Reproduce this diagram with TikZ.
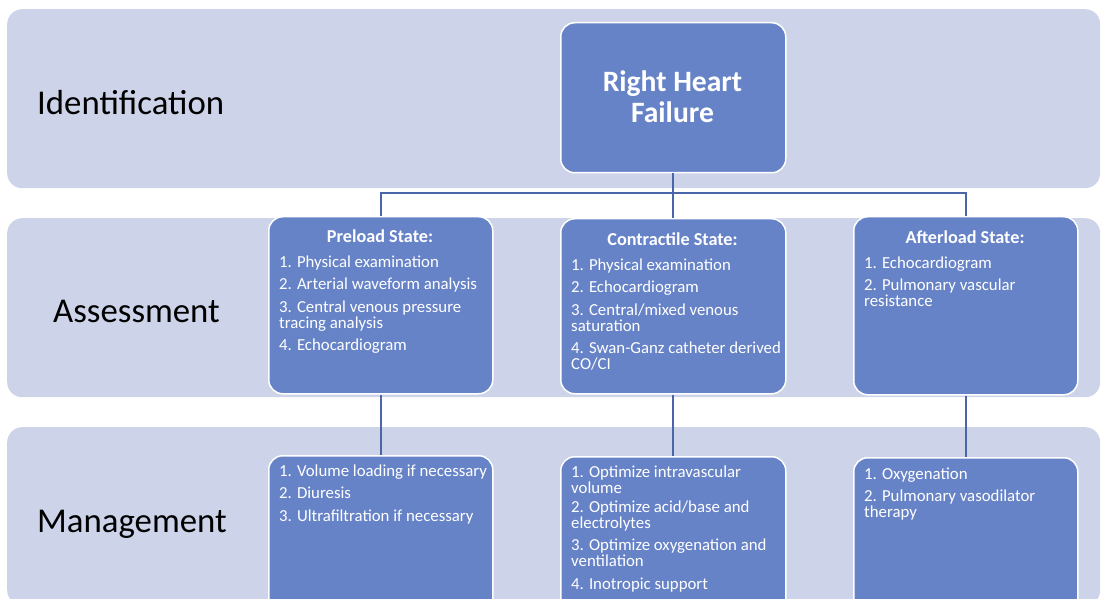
\documentclass[tikz,border=0pt]{standalone}
\usepackage{fontspec}
\setmainfont{Carlito}
\definecolor{bandc}{HTML}{CDD4E9}
\definecolor{boxc}{HTML}{6783C7}
\definecolor{linec}{HTML}{4A66A8}
\tikzset{
  band/.style={fill=bandc, draw=none, rounded corners=15pt, anchor=north west, inner sep=0pt},
  sbox/.style={fill=boxc, draw=white, line width=1.5pt, rounded corners=14pt, anchor=north west, inner sep=0pt},
  bandlabel/.style={anchor=base west, inner sep=0pt, text=black, font=\fontsize{34.8}{38}\selectfont},
  boxtitle/.style={anchor=base, inner sep=0pt, text=white, font=\bfseries\fontsize{18.2}{19}\selectfont},
  boxtext/.style={anchor=north west, inner sep=0pt, text=white, align=left, font=\fontsize{16.8}{16}\selectfont},
  conn/.style={draw=linec, line width=2pt}
}
\begin{document}
\begin{tikzpicture}[x=1pt, y=-1pt]
\useasboundingbox (0,0) rectangle (1104,599);
\clip (0,0) rectangle (1104,599);
% bands
\node[band, minimum width=1093pt, minimum height=179pt] (b1) at (7,9) {};
\node[band, minimum width=1093pt, minimum height=179pt] (b2) at (7,218) {};
\node[band, minimum width=1093pt, minimum height=178pt] (b3) at (7,427) {};
\node[bandlabel] (l1) at (37,114.5) {Identification};
\node[bandlabel] (l2) at (53,322.5) {Assessment};
\node[bandlabel] (l3) at (37,532.5) {Management};
% top box
\node[sbox, minimum width=225pt, minimum height=150pt] (rhf) at (560,22) {};
\node[inner sep=0pt, text=white, align=center, font=\bfseries\fontsize{29.6}{31}\selectfont] (rhft) at (672.5,96.5) {Right Heart\\Failure};
% assessment boxes
\node[sbox, minimum width=224pt, minimum height=177pt] (pre) at (268,216) {};
\node[sbox, minimum width=225pt, minimum height=175pt] (con) at (560,218) {};
\node[sbox, minimum width=224pt, minimum height=178pt] (aft) at (853,216) {};
% management boxes
\node[sbox, minimum width=224pt, minimum height=170pt] (mpre) at (268,455) {};
\node[sbox, minimum width=225pt, minimum height=170pt] (mcon) at (560,456) {};
\node[sbox, minimum width=224pt, minimum height=170pt] (maft) at (853,457) {};
% connectors
\coordinate (bus) at (rhf.south |- 0,193.5);
\draw[conn] (rhf.south) -- (bus);
\draw[conn] (pre.north) |- (bus) -| (aft.north);
\draw[conn] (bus) -- (con.north);
\draw[conn] (pre.south) -- (mpre.north);
\draw[conn] (con.south) -- (mcon.north);
\draw[conn] (aft.south) -- (maft.north);
% assessment texts
\node[boxtitle] (pret) at (380,242.5) {Preload State:};
\node[boxtext] (prex) at (279,255.5) {1. Physical examination\\[6.5pt]2. Arterial waveform analysis\\[6.5pt]3. Central venous pressure\\tracing analysis\\[6.5pt]4. Echocardiogram};
\node[boxtitle] (cont) at (672.5,245.5) {Contractile State:};
\node[boxtext] (conx) at (571,258.5) {1. Physical examination\\[6.5pt]2. Echocardiogram\\[6.5pt]3. Central/mixed venous\\saturation\\[6.5pt]4. Swan-Ganz catheter derived\\CO/CI};
\node[boxtitle] (aftt) at (965,243.5) {Afterload State:};
\node[boxtext] (aftx) at (864,256.5) {1. Echocardiogram\\[6.5pt]2. Pulmonary vascular\\resistance};
% management texts
\node[boxtext] (mprex) at (279,464.5) {1. Volume loading if necessary\\[6.5pt]2. Diuresis\\[6.5pt]3. Ultrafiltration if necessary};
\node[boxtext] (mconx) at (571,465.5) {1. Optimize intravascular\\volume\\[3pt]2. Optimize acid/base and\\electrolytes\\[6.5pt]3. Optimize oxygenation and\\ventilation\\[6.5pt]4. Inotropic support};
\node[boxtext] (maftx) at (864,467.5) {1. Oxygenation\\[6.5pt]2. Pulmonary vasodilator\\therapy};
\end{tikzpicture}
\end{document}
